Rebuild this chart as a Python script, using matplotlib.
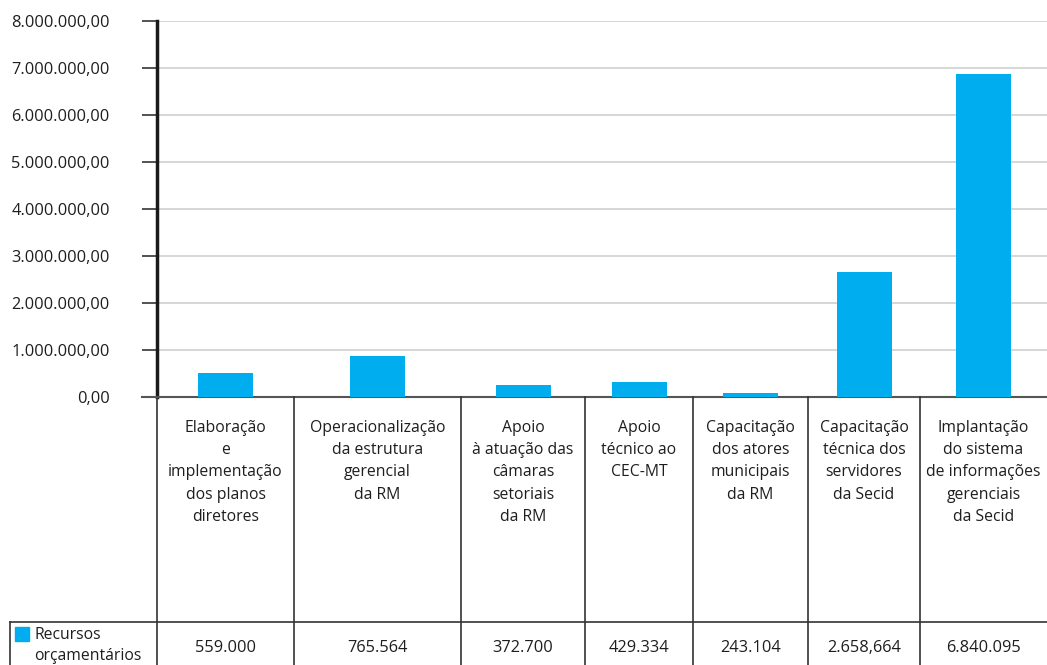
import matplotlib.pyplot as plt
from matplotlib.ticker import MultipleLocator, FuncFormatter

# categories and values
categories = [
    'Elaboração\ne\nimplementação\ndos planos\ndiretores',
    'Operacionalização\nda estrutura\ngerencial\nda RM',
    'Apoio\nà atuação das\ncâmaras\nsetoriais\nda RM',
    'Apoio\ntécnico ao\nCEC-MT',
    'Capacitação\ndos atores\nmunicipais\nda RM',
    'Capacitação\ntécnica dos\nservidores\nda Secid',
    'Implantação\ndo sistema\nde informações\ngerenciais\nda Secid',
]
bar_values = [520000, 875000, 250000, 310000, 85000, 2650000, 6870000]
table_values = ['559.000', '765.564', '372.700', '429.334', '243.104', '2.658,664', '6.840.095']
series_name = 'Recursos\norçamentários'

# layout (pixel units of the 1047x665 canvas)
W, H = 1047, 665
col_edges = [157, 294, 461, 585, 693, 808, 920, 1047]
zero_y, top_y = 397, 21
row_y = 622
blue = '#00AEEF'
txt = '#1e1e1e'

plt.rcParams['font.family'] = ['Open Sans', 'DejaVu Sans']

fig = plt.figure(figsize=(W / 100, H / 100), dpi=100)
ax = fig.add_axes([col_edges[0] / W, (H - zero_y) / H,
                   (W - col_edges[0]) / W, (zero_y - top_y) / H])

centers = [(a + b) / 2 for a, b in zip(col_edges[:-1], col_edges[1:])]
ax.bar(centers, bar_values, width=55, color=blue, zorder=3)

ax.set_xlim(col_edges[0], W)
ax.set_ylim(0, 8000000)
ax.yaxis.set_major_locator(MultipleLocator(1000000))
ax.yaxis.set_major_formatter(FuncFormatter(
    lambda v, p: f'{v:,.2f}'.replace(',', 'X').replace('.', ',').replace('X', '.')))
ax.tick_params(axis='y', length=11, width=1.3, color='#444444', pad=23,
               labelsize=11.8, labelcolor=txt)
ax.set_xticks([])
ax.grid(axis='y', color='#cfcfcf', linewidth=1.2, zorder=0)
for s in ['top', 'right']:
    ax.spines[s].set_visible(False)
ax.spines['left'].set_linewidth(2.5)
ax.spines['left'].set_color('#1a1a1a')
ax.spines['bottom'].set_linewidth(1.5)
ax.spines['bottom'].set_color('#555555')

# data table underneath, drawn in canvas pixel coordinates
tb = fig.add_axes([0, 0, 1, 1])
tb.set_xlim(0, W)
tb.set_ylim(H, 0)
tb.axis('off')
tb.patch.set_visible(False)

for x in col_edges[:-1]:
    tb.plot([x, x], [zero_y, H], color='#333333', lw=1.2)
tb.plot([10, 10], [row_y, H], color='#333333', lw=1.2)
tb.plot([10, W], [row_y, row_y], color='#333333', lw=1.2)
tb.plot([col_edges[0] - 15, col_edges[0]], [zero_y, zero_y], color='#555555', lw=1.5)

for cx, lab, val in zip(centers, categories, table_values):
    tb.text(cx, 420, lab, ha='center', va='top', fontsize=11.3,
            color=txt, linespacing=1.52)
    tb.text(cx, 648, val, ha='center', va='center', fontsize=11.8, color=txt)

tb.add_patch(plt.Rectangle((15, 627), 14, 14, color=blue))
tb.text(34, 627, series_name, ha='left', va='top', fontsize=11.3,
        color=txt, linespacing=1.4)

fig.savefig('out.png', dpi=100)
